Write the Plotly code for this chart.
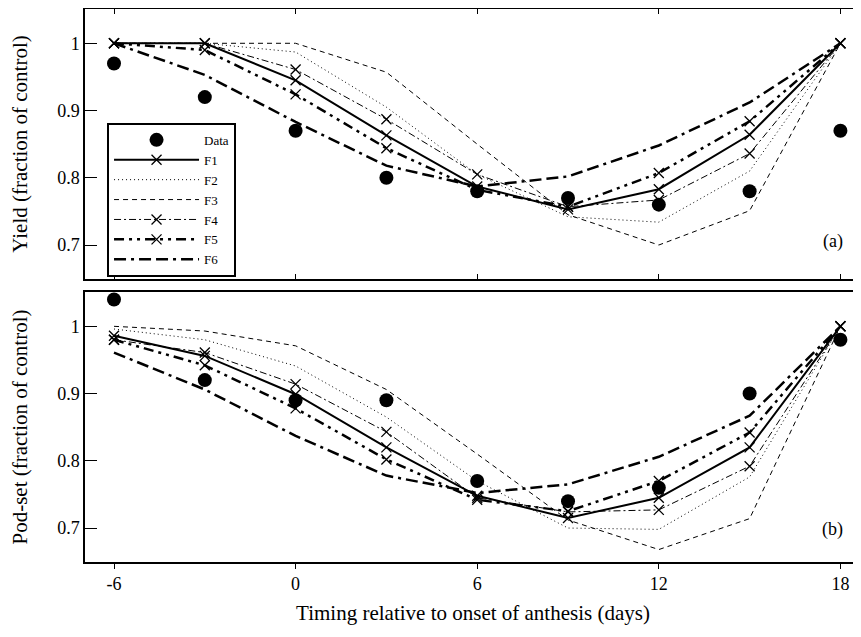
import plotly.graph_objects as go

days = [-6, -3, 0, 3, 6, 9, 12, 15, 18]

# Panel (a): yield, fraction of control
yield_data = [0.97, 0.92, 0.87, 0.80, 0.78, 0.77, 0.76, 0.78, 0.87]
yield_f1 = [1.0, 1.0, 0.945, 0.863, 0.787, 0.753, 0.783, 0.864, 1.0]
yield_f2 = [1.0, 1.0, 0.987, 0.905, 0.805, 0.742, 0.734, 0.810, 1.0]
yield_f3 = [1.0, 1.0, 1.0, 0.957, 0.850, 0.745, 0.700, 0.751, 1.0]
yield_f4 = [1.0, 1.0, 0.961, 0.887, 0.805, 0.757, 0.767, 0.836, 1.0]
yield_f5 = [1.0, 0.99, 0.924, 0.844, 0.782, 0.757, 0.807, 0.884, 1.0]
yield_f6 = [1.0, 0.953, 0.883, 0.818, 0.787, 0.802, 0.848, 0.912, 1.0]

# Panel (b): pod-set, fraction of control
pod_data = [1.04, 0.92, 0.89, 0.89, 0.77, 0.74, 0.76, 0.90, 0.98]
pod_f1 = [0.986, 0.956, 0.899, 0.820, 0.748, 0.715, 0.745, 0.820, 1.0]
pod_f2 = [0.996, 0.980, 0.941, 0.865, 0.770, 0.700, 0.698, 0.776, 1.0]
pod_f3 = [1.0, 0.993, 0.971, 0.906, 0.810, 0.712, 0.668, 0.714, 1.0]
pod_f4 = [0.980, 0.961, 0.914, 0.843, 0.745, 0.724, 0.727, 0.792, 1.0]
pod_f5 = [0.980, 0.942, 0.878, 0.802, 0.742, 0.725, 0.770, 0.842, 1.0]
pod_f6 = [0.961, 0.906, 0.837, 0.778, 0.752, 0.765, 0.806, 0.867, 1.0]

y_ticks = [0.7, 0.8, 0.9, 1.0]
y_tick_text = ["0.7", "0.8", "0.9", "1"]
x_ticks = [-6, 0, 6, 12, 18]
x_tick_text = ["-6", "0", "6", "12", "18"]

FONT = "Liberation Serif, Times New Roman, serif"

styles = {
    "F1": dict(line=dict(color="black", width=2, dash="solid"), markers=True),
    "F2": dict(line=dict(color="black", width=1, dash="1px,3px"), markers=False),
    "F3": dict(line=dict(color="black", width=1, dash="5px,4px"), markers=False),
    "F4": dict(line=dict(color="black", width=1, dash="7px,3px,2px,3px"), markers=True),
    "F5": dict(line=dict(color="black", width=2.5, dash="10px,5px,3px,5px,3px,5px"), markers=True),
    "F6": dict(line=dict(color="black", width=2.5, dash="12px,5px,3px,5px,12px,5px"), markers=False),
}

fig = go.Figure()

panels = [
    ("x", "y", yield_data, [yield_f1, yield_f2, yield_f3, yield_f4, yield_f5, yield_f6], True),
    ("x2", "y2", pod_data, [pod_f1, pod_f2, pod_f3, pod_f4, pod_f5, pod_f6], False),
]

for xa, ya, dat, series, show in panels:
    for name, vals in zip(["F1", "F2", "F3", "F4", "F5", "F6"], series):
        st = styles[name]
        fig.add_trace(go.Scatter(
            x=days, y=vals, name=name, xaxis=xa, yaxis=ya,
            mode="lines+markers" if st["markers"] else "lines",
            line=st["line"],
            marker=dict(symbol="x-thin-open", size=10, color="black",
                        line=dict(color="black", width=1.3)),
            showlegend=show, legendrank=2,
        ))
    fig.add_trace(go.Scatter(
        x=days, y=dat, name="Data", xaxis=xa, yaxis=ya, mode="markers",
        marker=dict(symbol="circle", size=14, color="black"),
        showlegend=show, legendrank=1,
    ))

xrange = [-6.958, 18.68]
yrange = [0.6495, 1.051]
top_dom = [0.5118, 1.0]
bot_dom = [0.0, 0.4882]

common_y = dict(range=yrange, tickvals=y_ticks, ticktext=y_tick_text, ticks="inside",
                ticklen=12, tickwidth=1.2, tickcolor="black", showline=True, linecolor="black",
                linewidth=1.5, mirror=False, showgrid=False, zeroline=False,
                tickfont=dict(family=FONT, size=18, color="black"))

# the page body has an 8px default margin; size the figure so the plot lands where the reference has it
fig.update_layout(
    width=853, height=629,
    margin=dict(l=77, r=0, t=1, b=75),
    paper_bgcolor="white", plot_bgcolor="white",
    font=dict(family=FONT, color="black"),
    xaxis=dict(domain=[0, 1], anchor="y", range=xrange, tickvals=x_ticks, ticks="inside",
               ticklen=5, tickwidth=1.2, tickcolor="black", showticklabels=False,
               showline=True, linecolor="black", linewidth=1.5, mirror="ticks",
               showgrid=False, zeroline=False),
    xaxis2=dict(domain=[0, 1], anchor="y2", range=xrange, tickvals=x_ticks, ticktext=x_tick_text,
                ticks="outside", ticklen=5, tickwidth=1.2, tickcolor="black",
                showline=True, linecolor="black", linewidth=1.5, mirror=True,
                showgrid=False, zeroline=False,
                tickfont=dict(family=FONT, size=18, color="black"),
                title=dict(text="Timing relative to onset of anthesis (days)",
                           font=dict(family=FONT, size=21, color="black"), standoff=12)),
    yaxis=dict(domain=top_dom, anchor="x",
               title=dict(text="Yield (fraction of control)", standoff=26,
                          font=dict(family=FONT, size=21, color="black")),
               **common_y),
    yaxis2=dict(domain=bot_dom, anchor="x2",
                title=dict(text="Pod-set (fraction of control)", standoff=26,
                           font=dict(family=FONT, size=21, color="black")),
                **common_y),
    yaxis3=dict(overlaying="y", anchor="x", side="right", range=yrange, tickvals=y_ticks,
                ticks="inside", ticklen=3, tickwidth=1.2, tickcolor="black",
                showticklabels=False, showline=False, showgrid=False, zeroline=False),
    yaxis4=dict(overlaying="y2", anchor="x2", side="right", range=yrange, tickvals=y_ticks,
                ticks="inside", ticklen=3, tickwidth=1.2, tickcolor="black",
                showticklabels=False, showline=False, showgrid=False, zeroline=False),
    legend=dict(x=0.0284, y=0.794, xanchor="left", yanchor="top",
                bgcolor="white", bordercolor="black", borderwidth=2,
                font=dict(family=FONT, size=13, color="black"),
                itemwidth=85, tracegroupgap=0, traceorder="normal"),
    annotations=[
        dict(text="(a)", xref="x domain", yref="y domain", x=0.979, y=0.14,
             xanchor="right", yanchor="middle", showarrow=False,
             font=dict(family=FONT, size=18, color="black")),
        dict(text="(b)", xref="x2 domain", yref="y2 domain", x=0.979, y=0.122,
             xanchor="right", yanchor="middle", showarrow=False,
             font=dict(family=FONT, size=18, color="black")),
    ],
)

fig.write_html("out.html")
